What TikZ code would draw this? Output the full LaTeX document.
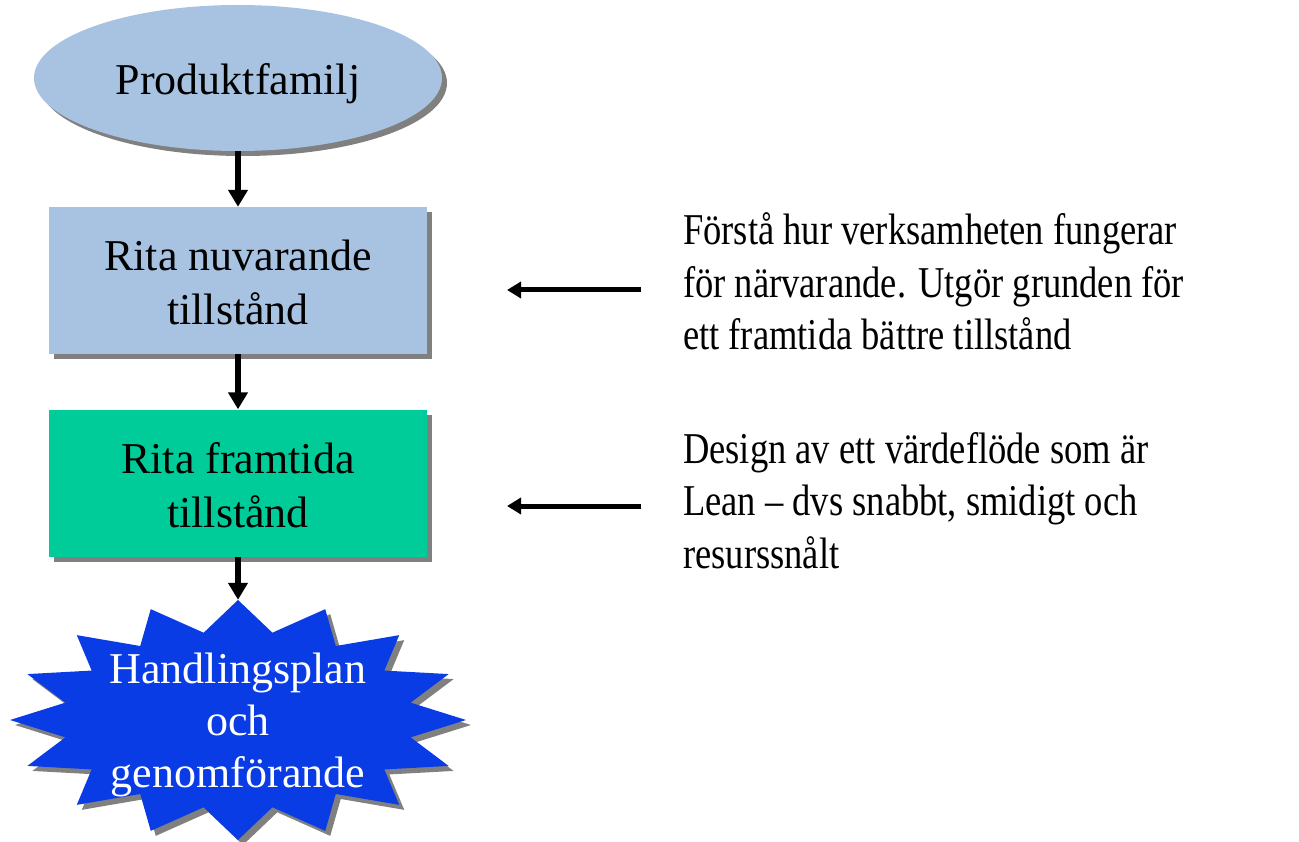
\documentclass[tikz,border=0pt]{standalone}
\usepackage{fontspec}
\setmainfont{Liberation Serif}
\newfontfamily\notefont[FakeStretch=0.83]{Liberation Serif}
\usetikzlibrary{arrows.meta,shapes.geometric,shadows}
\definecolor{paleblue}{HTML}{A7C3E1}
\definecolor{seagreen}{HTML}{00CC99}
\definecolor{burstblue}{HTML}{0A3CE6}
\definecolor{shadowgray}{HTML}{808080}
\tikzset{
  shad/.style={drop shadow={shadow xshift=5pt,shadow yshift=-5pt,fill=shadowgray,opacity=1}},
  stepbox/.style={rectangle, minimum width=378pt, minimum height=147pt, inner sep=0pt, shad},
  flow/.style={line width=6pt, -{Triangle[width=19pt,length=17pt]}},
  hint/.style={line width=5pt, -{Triangle[width=16pt,length=14pt]}},
  txt/.style={font=\fontsize{44}{54}\selectfont, align=center, inner sep=0pt, anchor=base},
  note/.style={font=\notefont\fontsize{44}{52.5}\selectfont, align=left, inner sep=0pt, anchor=base west},
}
\begin{document}
\begin{tikzpicture}[x=1pt,y=-1pt]
\useasboundingbox (0,0) rectangle (1299,842);

% flow chart shapes
\node[ellipse, fill=paleblue, minimum width=408pt, minimum height=146pt, inner sep=0pt, shad] (fam) at (238,78) {};
\node[stepbox, fill=paleblue] (cur) at (238,280.5) {};
\node[stepbox, fill=seagreen] (fut) at (238,483) {};
\node[ellipse, minimum width=456pt, minimum height=240pt, inner sep=0pt] (plan) at (238,720) {};

% sixteen-point burst with its shadow
\begin{scope}[shift={(plan.center)}]
  \fill[shadowgray, shift={(5,5)}] (90:228pt and 120pt)
    \foreach \i [evaluate=\i as \rx using {mod(\i,2)==0 ? 228 : 176},
                 evaluate=\i as \ry using {mod(\i,2)==0 ? 120 : 89}] in {1,...,31}
    { -- ({90+11.25*\i}:\rx pt and \ry pt) } -- cycle;
  \fill[burstblue] (90:228pt and 120pt)
    \foreach \i [evaluate=\i as \rx using {mod(\i,2)==0 ? 228 : 176},
                 evaluate=\i as \ry using {mod(\i,2)==0 ? 120 : 89}] in {1,...,31}
    { -- ({90+11.25*\i}:\rx pt and \ry pt) } -- cycle;
\end{scope}

% labels (anchored on the baseline of their last line)
\node[txt] (famtxt) at (238,95) {Produktfamilj};
\node[txt] (curtxt) at (238,325) {Rita nuvarande\\tillstånd};
\node[txt] (futtxt) at (238,527) {Rita framtida\\tillstånd};
\node[txt, text=white, font=\fontsize{44}{52}\selectfont] (plantxt) at (238,787) {Handlingsplan\\och\\genomförande};

% connectors
\draw[flow] (fam.south) -- (cur.north);
\draw[flow] (cur.south) -- (fut.north);
\draw[flow] (fut.south) -- (plan.north);

% side notes
\coordinate (h1) at (641,290);
\coordinate (h1t) at (507,290);
\coordinate (h2) at (641,506);
\coordinate (h2t) at (507,506);
\draw[hint] (h1) -- (h1t);
\draw[hint] (h2) -- (h2t);
\node[note] (n1) at (683,350) {Förstå hur verksamheten fungerar\\för närvarande. Utgör grunden för\\ett framtida bättre tillstånd};
\node[note] (n2) at (683,568) {Design av ett värdeflöde som är\\Lean – dvs snabbt, smidigt och\\resurssnålt};
\end{tikzpicture}
\end{document}
